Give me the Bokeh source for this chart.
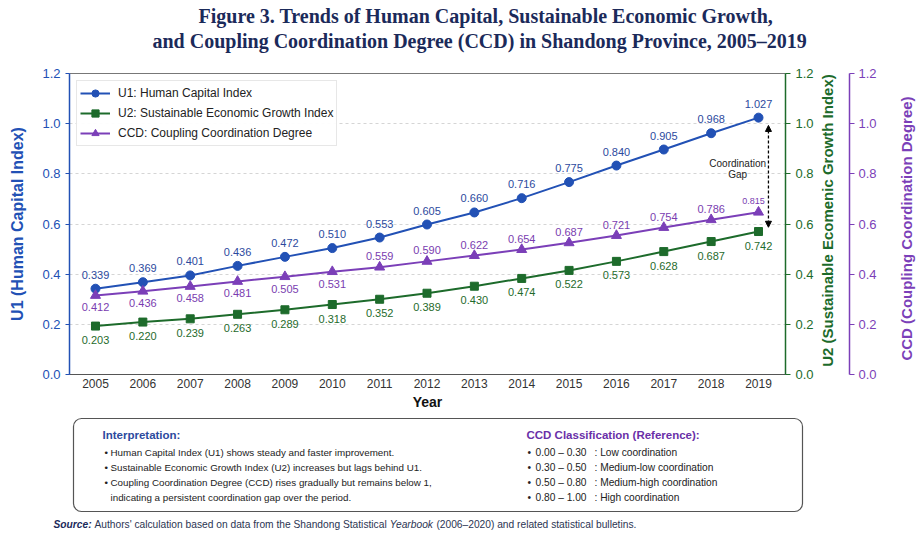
import math
from bokeh.plotting import figure
from bokeh.models import (Range1d, LinearAxis, FixedTicker, PrintfTickFormatter,
                          Legend, LegendItem, Arrow, NormalHead, ColumnDataSource)
from bokeh.layouts import column, row
from bokeh.core.properties import value, field
from bokeh.embed import file_html
from bokeh.resources import INLINE

# ---------------- data ----------------
years = [2005, 2006, 2007, 2008, 2009, 2010, 2011, 2012, 2013, 2014, 2015, 2016, 2017, 2018, 2019]
# values as drawn
u1_drawn = [0.342, 0.368, 0.395, 0.433, 0.469, 0.504, 0.546, 0.598, 0.646, 0.703, 0.767, 0.833, 0.897, 0.962, 1.024]
u2_drawn = [0.193, 0.209, 0.222, 0.240, 0.258, 0.279, 0.300, 0.324, 0.352, 0.383, 0.415, 0.451, 0.490, 0.530, 0.570]
ccd_drawn = [0.315, 0.332, 0.351, 0.371, 0.390, 0.410, 0.428, 0.451, 0.474, 0.498, 0.525, 0.554, 0.586, 0.617, 0.647]
# printed value labels
u1_labels = [0.339, 0.369, 0.401, 0.436, 0.472, 0.510, 0.553, 0.605, 0.660, 0.716, 0.775, 0.840, 0.905, 0.968, 1.027]
u2_labels = [0.203, 0.220, 0.239, 0.263, 0.289, 0.318, 0.352, 0.389, 0.430, 0.474, 0.522, 0.573, 0.628, 0.687, 0.742]
ccd_labels = [0.412, 0.436, 0.458, 0.481, 0.505, 0.531, 0.559, 0.590, 0.622, 0.654, 0.687, 0.721, 0.754, 0.786, 0.815]
y_ticks = [0.0, 0.2, 0.4, 0.6, 0.8, 1.0, 1.2]

title_lines = ["Figure 3. Trends of Human Capital, Sustainable Economic Growth,",
               "and Coupling Coordination Degree (CCD) in Shandong Province, 2005\u20132019"]
series_names = ["U1: Human Capital Index", "U2: Sustainable Economic Growth Index",
                "CCD: Coupling Coordination Degree"]
axis_names = ["Year", "U1 (Human Capital Index)", "U2 (Sustainable Ecomenic Growth Index)",
              "CCD (Coupling Coordination Degree)"]
gap_text = ["Coordination", "Gap"]
interp_head = "Interpretation:"
interp_lines = ["Human Capital Index (U1) shows steady and faster improvement.",
                "Sustainable Economic Growth Index (U2) increases but lags behind U1.",
                "Coupling Coordination Degree (CCD) rises gradually but remains below 1,",
                "indicating a persistent coordination gap over the period."]
interp_bullets = [True, True, True, False]
class_head = "CCD Classification (Reference):"
class_ranges = ["0.00 \u2013 0.30", "0.30 \u2013 0.50", "0.50 \u2013 0.80", "0.80 \u2013 1.00"]
class_names = [": Low coordination", ": Medium-low coordination",
               ": Medium-high coordination", ": High coordination"]
source_parts = [("Source:", "bold italic"),
                (" Authors' calculation based on data from the Shandong Statistical ", "normal"),
                ("Yearbook", "italic"),
                (" (2006\u20132020) and related statistical bulletins.", "normal")]

# ---------------- styles / geometry (page pixels) ----------------
BLUE = "#2251b5"
BLUE_T = "#2c4a9e"
GREEN = "#1d6b2b"
GREEN_T = "#1f6b2c"
PURPLE = "#7b3fb8"
PURPLE_T = "#7a3db0"
NAVY = "#1b2a5a"
SANS = "Liberation Sans"
TXT = "#222222"

FL, FR, FT, FB = 69, 785, 73, 374          # chart frame edges
TITLE_H = 58                               # title strip
ROW_TOP, ROW_BOTTOM = TITLE_H, 414         # chart row
ROW_H = ROW_BOTTOM - ROW_TOP
MAIN_W = 817                               # main plot incl. green axis
R1_W = 62                                  # green title + purple axis
R2_W = 38                                  # purple title
TOTAL_W = MAIN_W + R1_W + R2_W
PANEL_H = 119
X0, X1 = 2004.451, 2019.57
Y0, Y1 = 0.0, 1.2


def px_y(py):
    return Y0 + (FB - py) * (Y1 - Y0) / (FB - FT)


def strip_fig(h):
    f = figure(width=TOTAL_W, height=h, x_range=Range1d(0, TOTAL_W), y_range=Range1d(h, 0),
               x_axis_type=None, y_axis_type=None, output_backend="svg",
               toolbar_location=None, min_border=0, outline_line_color=None)
    f.grid.visible = False
    return f


# ---------------- title ----------------
t = strip_fig(TITLE_H)
t.text(x=[198, 152], y=[15, 40], text=title_lines, text_align="left",
       text_baseline="middle", text_font=value("Liberation Serif"),
       text_font_style="bold", text_font_size="20px", text_color=NAVY)

common = dict(output_backend="svg", toolbar_location=None, height=ROW_H,
              min_border_top=FT - ROW_TOP, min_border_bottom=ROW_BOTTOM - FB)

# ---------------- main chart ----------------
p = figure(width=MAIN_W, x_range=Range1d(X0, X1), y_range=Range1d(Y0, Y1),
           min_border_left=FL, min_border_right=MAIN_W - FR, **common)
p.extra_y_ranges = {"u2": Range1d(Y0, Y1)}
p.outline_line_color = "#777777"
p.xgrid.visible = False
p.ygrid.grid_line_color = "#d5d5d5"
p.ygrid.grid_line_dash = "3 3"
p.ygrid.ticker = FixedTicker(ticks=y_ticks)

r1l = p.line(years, u1_drawn, line_color=BLUE, line_width=2)
r1m = p.scatter(years, u1_drawn, marker="circle", size=9, fill_color=BLUE, line_color=BLUE)
r2l = p.line(years, u2_drawn, line_color=GREEN, line_width=2, y_range_name="u2")
r2m = p.scatter(years, u2_drawn, marker="square", size=8, fill_color=GREEN,
                line_color=GREEN, y_range_name="u2")
# CCD has its own axis (drawn to the right) with the same 0-1.2 scale
r3l = p.line(years, ccd_drawn, line_color=PURPLE, line_width=2)
r3m = p.scatter(years, ccd_drawn, marker="triangle", size=10, fill_color=PURPLE,
                line_color=PURPLE)

p.text(x=years, y=u1_drawn, text=[f"{v:.3f}" for v in u1_labels], text_align="center",
       text_baseline="middle", y_offset=-14, text_font=value(SANS), text_font_size="11px",
       text_color=BLUE_T)
p.text(x=years, y=u2_drawn, text=[f"{v:.3f}" for v in u2_labels], text_align="center",
       text_baseline="middle", y_offset=14, text_font=value(SANS), text_font_size="11px",
       text_color=GREEN_T, y_range_name="u2")
last = len(years) - 1
ccd_src = ColumnDataSource(dict(
    x=years, y=ccd_drawn, t=[f"{v:.3f}" for v in ccd_labels],
    yo=[(-11 if i == last else (12 if v < 0.55 else -11)) for i, v in enumerate(ccd_labels)],
    xo=[(-5 if i == last else 0) for i in range(len(years))],
    fs=[("9px" if i == last else "11px") for i in range(len(years))]))
p.text(x="x", y="y", text="t", x_offset="xo", y_offset="yo", text_font_size=field("fs"),
       text_align="center", text_baseline="middle", text_font=value(SANS),
       text_color=PURPLE_T, source=ccd_src)

# coordination gap annotation
gap_x = years[-1] + 0.21
p.add_layout(Arrow(start=NormalHead(size=6, fill_color="black", line_color="black"),
                   end=NormalHead(size=6, fill_color="black", line_color="black"),
                   x_start=gap_x, y_start=u1_drawn[-1] - 0.031,
                   x_end=gap_x, y_end=u2_drawn[-1] + 0.017,
                   line_color="black", line_width=1.3, line_dash="3 2"))
p.text(x=[years[-1] - 0.44, years[-1] - 0.44], y=[px_y(163), px_y(174)],
       text=gap_text, text_align="center", text_baseline="middle",
       text_font=value(SANS), text_font_size="10px", text_color=TXT)

ax = p.xaxis[0]
ax.ticker = FixedTicker(ticks=years)
ax.axis_label = axis_names[0]
ax.axis_label_text_font = SANS
ax.axis_label_text_font_style = "bold"
ax.axis_label_text_font_size = "14px"
ax.axis_label_text_color = "#111111"
ax.axis_label_standoff = 3
ax.major_label_text_font = SANS
ax.major_label_text_font_size = "12px"
ax.major_label_text_color = "#333333"
ax.major_label_standoff = 4
ax.major_tick_out = 0
ax.major_tick_in = 0
ax.minor_tick_line_color = None
ax.axis_line_color = "#555555"

ay = p.yaxis[0]
ay.ticker = FixedTicker(ticks=y_ticks)
ay.formatter = PrintfTickFormatter(format="%.1f")
ay.axis_label = axis_names[1]
ay.axis_label_text_font = SANS
ay.axis_label_text_font_style = "bold"
ay.axis_label_text_font_size = "16px"
ay.axis_label_text_color = BLUE
ay.axis_label_standoff = 13
ay.major_label_text_font = SANS
ay.major_label_text_font_size = "13px"
ay.major_label_text_color = BLUE
ay.major_tick_out = 4
ay.major_tick_in = 0
ay.major_tick_line_color = BLUE
ay.minor_tick_line_color = None
ay.axis_line_color = BLUE
ay.axis_line_width = 1.5


def style_right_axis(a, color, standoff):
    a.ticker = FixedTicker(ticks=y_ticks)
    a.formatter = PrintfTickFormatter(format="%.1f")
    a.major_label_text_font = SANS
    a.major_label_text_font_size = "13px"
    a.major_label_text_color = color
    a.major_tick_out = 5
    a.major_tick_in = 0
    a.major_label_standoff = standoff
    a.major_tick_line_color = color
    a.minor_tick_line_color = None
    a.axis_line_color = color
    a.axis_line_width = 1.5


g_axis = LinearAxis(y_range_name="u2")
style_right_axis(g_axis, GREEN, 5)
p.add_layout(g_axis, "right")

legend = Legend(items=[LegendItem(label=series_names[0], renderers=[r1l, r1m]),
                       LegendItem(label=series_names[1], renderers=[r2l, r2m]),
                       LegendItem(label=series_names[2], renderers=[r3l, r3m])],
                location="top_left")
legend.margin = 7
legend.padding = 3
legend.spacing = 2
legend.label_height = 18
legend.glyph_height = 18
legend.glyph_width = 30
legend.label_standoff = 8
legend.label_text_font = SANS
legend.label_text_font_size = "12px"
legend.label_text_color = TXT
legend.border_line_color = "#d0d0d0"
legend.background_fill_alpha = 0.95
p.add_layout(legend)

# ---------------- green title + CCD axis ----------------
r1_frame_w = (851 - MAIN_W)
q1 = figure(width=R1_W, x_range=Range1d(0, r1_frame_w), y_range=Range1d(Y0, Y1),
            x_axis_type=None, y_axis_type=None, min_border_left=0,
            min_border_right=R1_W - r1_frame_w, outline_line_color=None, **common)
q1.grid.visible = False
q1.text(x=[828 - MAIN_W], y=[px_y(220)], text=[axis_names[2]], angle=math.pi / 2,
        text_align="center", text_baseline="middle", text_font=value(SANS),
        text_font_style="bold", text_font_size="15px", text_color=GREEN)
c_axis = LinearAxis()
style_right_axis(c_axis, PURPLE, 4)
q1.add_layout(c_axis, "right")

# ---------------- purple title ----------------
q2 = figure(width=R2_W, x_range=Range1d(0, R2_W), y_range=Range1d(Y0, Y1),
            x_axis_type=None, y_axis_type=None, min_border_left=0, min_border_right=0,
            outline_line_color=None, **common)
q2.grid.visible = False
q2.text(x=[906 - (MAIN_W + R1_W)], y=[px_y(228)], text=[axis_names[3]], angle=math.pi / 2,
        text_align="center", text_baseline="middle", text_font=value(SANS),
        text_font_style="bold", text_font_size="15px", text_color=PURPLE)

# ---------------- interpretation panel ----------------
b = strip_fig(PANEL_H)
b.quad(left=73, right=802, top=418 - ROW_BOTTOM, bottom=511 - ROW_BOTTOM,
       fill_color="white", line_color="#555555", line_width=1.2, border_radius=8)


def put(px, py, txt, size="10px", style="normal", color=TXT):
    b.text(x=[px], y=[py - ROW_BOTTOM], text=[txt], text_align="left",
           text_baseline="middle", text_font=value(SANS), text_font_style=style,
           text_font_size=size, text_color=color)


row_py = [452, 467, 482, 497]
put(102, 434, interp_head, "11.5px", "bold", BLUE_T)
for py, txt, bl in zip(row_py, interp_lines, interp_bullets):
    if bl:
        put(104, py, "\u2022", "9.8px")
    put(110, py, txt, "9.8px")

put(526, 434, class_head, "11.5px", "bold", "#6a2fa8")
for py, rng, nm in zip(row_py, class_ranges, class_names):
    put(527, py, "\u2022", "10.2px")
    put(535, py, rng, "10.2px")
    put(594, py, nm, "10.2px")

# source line, pieces laid out with Arial/Liberation Sans advance widths
REG = dict(zip(" abcdefghijklmnopqrstuvwxyz",
               [278, 556, 556, 500, 556, 556, 278, 556, 556, 222, 222, 500, 222, 833, 556,
                556, 556, 556, 333, 500, 278, 556, 500, 722, 500, 500, 500]))
REG.update({"A": 667, "S": 667, "Y": 667, "(": 333, ")": 333, "'": 191, "\u2013": 556,
            ".": 278, ",": 278, ":": 278})
for d in "0123456789":
    REG[d] = 556
BI = {"S": 667, "o": 611, "u": 611, "r": 389, "c": 556, "e": 556, ":": 333}


def em_width(s, style):
    tab = BI if style == "bold italic" else REG
    return sum(tab.get(ch, 556) for ch in s) / 1000.0


SRC_L, SRC_R, SRC_Y = 53, 636, 524
fs = (SRC_R - SRC_L) / sum(em_width(s, st) for s, st in source_parts)
sx = SRC_L
for s, st in source_parts:
    lead = len(s) - len(s.lstrip(" "))
    core = s.strip(" ")
    sx += em_width(" " * lead, "normal") * fs
    put(sx, SRC_Y, core, f"{fs:.2f}px", st, NAVY if st == "bold italic" else "#2b3553")
    sx += em_width(core, st) * fs + em_width(" " * (len(s) - lead - len(core)), "normal") * fs

layout = column(t, row(p, q1, q2), b)
open("out.html", "w").write(file_html(layout, INLINE))
